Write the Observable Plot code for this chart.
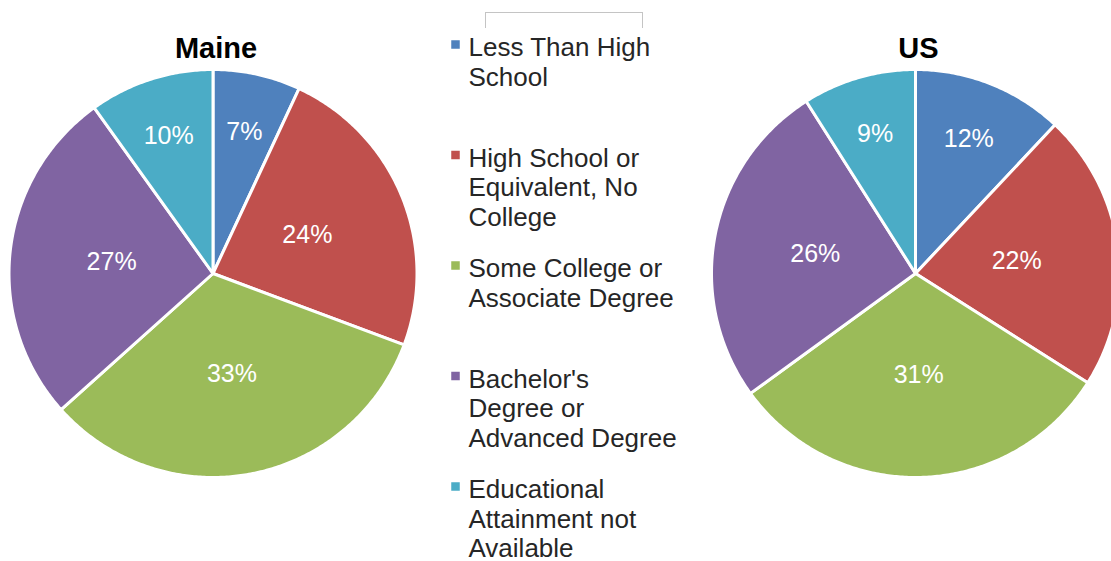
<!DOCTYPE html>
<html><head><meta charset="utf-8">
<script src="https://cdn.jsdelivr.net/npm/d3@7"></script>
<script src="https://cdn.jsdelivr.net/npm/@observablehq/plot@0.6"></script>
<style>
html,body{margin:0;padding:0;background:#fff;overflow:hidden;width:1111px;height:561px}
#wrap{position:relative;width:1111px;height:561px;overflow:hidden}
#bracket{position:absolute;left:485px;top:12px;width:158px;height:16px;border:1px solid #c4c4c4;border-bottom:none;box-sizing:border-box}
</style></head><body><div id="wrap"><div id="bracket"></div></div>
<script>
// ---- data ----
const categories = [
  "Less Than High School",
  "High School or Equivalent, No College",
  "Some College or Associate Degree",
  "Bachelor's Degree or Advanced Degree",
  "Educational Attainment not Available"
];
const legendLabels = [
  "Less Than High\nSchool",
  "High School or\nEquivalent, No\nCollege",
  "Some College or\nAssociate Degree",
  "Bachelor's\nDegree or\nAdvanced Degree",
  "Educational\nAttainment not\nAvailable"
];
const regions = ["Maine", "US"];
const maineValues = [7, 24, 33, 27, 10];
const usValues = [12, 22, 31, 26, 9];
const colors = ["#4F81BD", "#C0504D", "#9BBB59", "#8064A2", "#4BACC6"];

// ---- layout ----
const W = 1111, H = 561, R = 204;
const pies = [
  {name: regions[0], values: maineValues, cx: 212.5, cy: 273},
  {name: regions[1], values: usValues, cx: 915, cy: 273}
];
const FONT = "Liberation Sans, Arial, Helvetica, sans-serif";

const slicePts = [], labels = [], titles = [];
for (const p of pies) {
  const arcs = d3.pie().sort(null).value(d => d)(p.values);
  arcs.forEach((a, i) => {
    const id = p.name + "-" + i;
    const cat = categories[i];
    slicePts.push({id, cat, x: p.cx, y: p.cy});
    const n = Math.max(2, Math.ceil((a.endAngle - a.startAngle) / 0.01));
    for (let k = 0; k <= n; k++) {
      const t = a.startAngle + (a.endAngle - a.startAngle) * k / n;
      slicePts.push({id, cat, x: p.cx + R * Math.sin(t), y: p.cy - R * Math.cos(t)});
    }
    slicePts.push({id, cat, x: p.cx, y: p.cy});
    const mid = (a.startAngle + a.endAngle) / 2;
    const share = p.values[i] / d3.sum(p.values);
    const rr = R * (share < 0.15 ? 0.71 : 0.5);
    labels.push({text: p.values[i] + "%", x: p.cx + rr * Math.sin(mid), y: p.cy - rr * Math.cos(mid)});
  });
  titles.push({text: p.name, x: p.cx + 3, y: p.cy - R - 21});
}

const LX = 455, LTX = 468, LY0 = 34.5, LSTEP = 110.5;
const legend = categories.map((c, i) => ({cat: c, label: legendLabels[i], y: LY0 + i * LSTEP}));

const chart = Plot.plot({
  width: W, height: H, margin: 0,
  style: {fontFamily: FONT, background: "transparent"},
  x: {domain: [0, W], range: [0, W], axis: null},
  y: {domain: [0, H], range: [0, H], axis: null},
  color: {domain: categories, range: colors},
  marks: [
    Plot.line(slicePts, {x: "x", y: "y", z: "id", fill: "cat", stroke: "white", strokeWidth: 3, strokeLinejoin: "round"}),
    Plot.text(labels, {x: "x", y: "y", text: "text", fill: "white", fontSize: 25}),
    Plot.text(titles, {x: "x", y: "y", text: "text", fill: "black", fontSize: 29, fontWeight: "bold"}),
    Plot.dot(legend, {x: () => LX, y: d => d.y + 9.5, symbol: "square", r: 4.8, fill: "cat", stroke: null}),
    Plot.text(legend, {x: () => LTX, y: "y", text: "label", textAnchor: "start", lineAnchor: "top", lineHeight: 1.14, fontSize: 26, fill: "#262626"})
  ]
});
document.getElementById("wrap").prepend(chart);
</script>
</body></html>
